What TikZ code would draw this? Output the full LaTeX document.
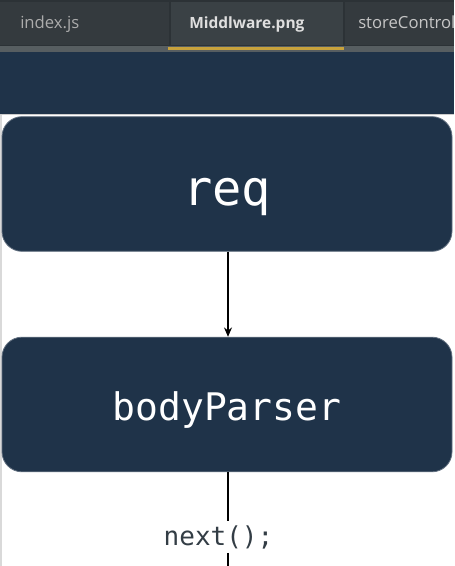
\documentclass[tikz,border=0pt]{standalone}
\usepackage{fontspec}
\setmainfont{Open Sans}
\newfontfamily\codefont{DejaVu Sans Mono}
\usetikzlibrary{arrows.meta}
\definecolor{navy}{HTML}{1F3349}
\definecolor{tabbar}{HTML}{2C3236}
\definecolor{tabidle}{HTML}{343A3E}
\definecolor{tabactive}{HTML}{3A4145}
\definecolor{tabline}{HTML}{C8A23C}
\definecolor{codegray}{HTML}{333D45}
\tikzset{
  stagebox/.style={draw=navy!70!white, line width=0.6pt, fill=navy, rounded corners=15pt,
    minimum width=337.5pt, minimum height=101pt, inner sep=0pt, text=white},
  tablabel/.style={anchor=base west, inner sep=0pt, font=\fontsize{12.5}{14}\selectfont}
}

\begin{document}
\begin{tikzpicture}[x=0.75pt,y=-0.75pt]
            \useasboundingbox (0,0) rectangle (454,566);
            \fill[white] (0,0) rectangle (454,566);
            \fill[gray!30] (0,115) rectangle (2,566);
            % editor tab bar
            \fill[tabbar] (0,0) rectangle (454,52);
            \fill[tabidle] (0,2) rectangle (169,45);
            \fill[tabactive] (171,2) rectangle (343,45);
            \fill[tabidle] (345,2) rectangle (454,45);
            \fill[tabactive!85!white] (0,46) rectangle (454,52);
            \fill[tabline] (168,47) rectangle (344,50);
            \fill[navy] (0,52) rectangle (454,115);
            \fill[gray!40] (0,114.5) rectangle (454,115.5);
            \begin{scope}
              \clip (0,0) rectangle (454,45);
              \node[tablabel, text=gray!65] (tabindex) at (20,29) {index.js};
              \node[tablabel, text=gray!25, font=\fontsize{11.6}{14}\selectfont\bfseries] (tabmid) at (189,29) {Middlware.png};
              \node[tablabel, text=gray!45] (tabstore) at (358,29) {storeControl};
            \end{scope}
            % middleware chain
            \node[stagebox, text height=38pt, text depth=5pt, font=\codefont\fontsize{36.5}{40}\selectfont] (req) at (227,184) {req};
            \node[stagebox, text height=29pt, text depth=5.75pt, font=\codefont\fontsize{28.5}{32}\selectfont] (parser) at (227,404.5) {bodyParser};
            \node[anchor=base, inner sep=3pt, text=codegray, font=\codefont\fontsize{19.5}{22}\selectfont] (next) at (218.5,545) {next();};
            \coordinate (chainend) at (228,566);
            \draw[line width=0.8pt, -{Stealth[length=7pt,width=6pt]}] (req.south -| chainend) -- (parser.north -| chainend);
            \draw[line width=0.8pt] (parser.south -| chainend) -- (next.north -| chainend);
            \draw[line width=0.8pt] (next.south -| chainend) -- (chainend);
        \end{tikzpicture}
\end{document}
